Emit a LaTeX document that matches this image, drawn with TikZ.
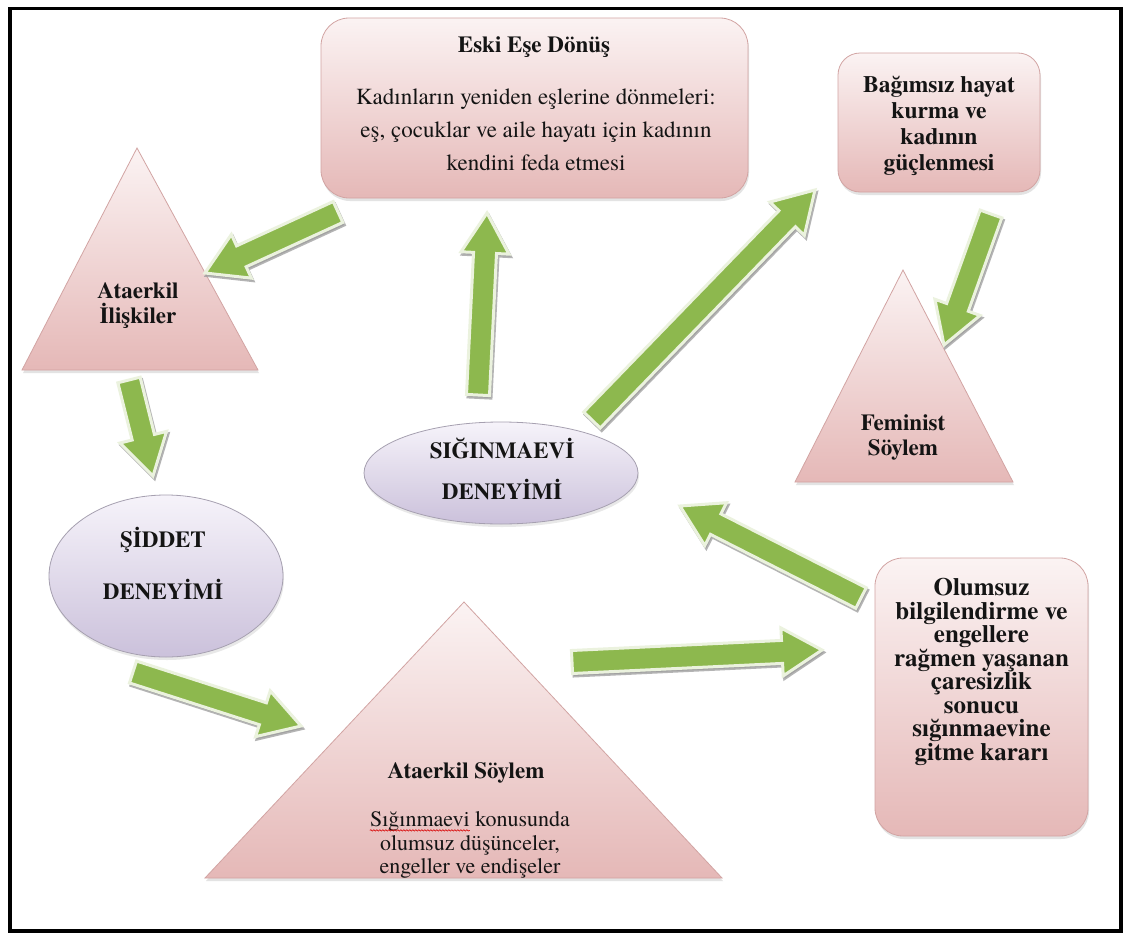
\documentclass[tikz,border=0pt]{standalone}
\usepackage{fontspec}
\setmainfont{texgyretermes}[Extension=.otf, UprightFont=*-regular, BoldFont=*-bold, ItalicFont=*-italic, BoldItalicFont=*-bolditalic]
\usetikzlibrary{calc,shadows,decorations.pathmorphing,shapes.geometric}
\definecolor{pinktop}{HTML}{FBF3F3}
\definecolor{pinkbot}{HTML}{E5B8B7}
\definecolor{pinkline}{HTML}{D2A4A3}
\definecolor{lavtop}{HTML}{F6F3FA}
\definecolor{lavbot}{HTML}{CBC1DB}
\definecolor{lavline}{HTML}{A6A0B0}
\definecolor{agreen}{HTML}{8DB84E}
\definecolor{aedge}{HTML}{EBF2DE}
\definecolor{ashadow}{HTML}{9C9C9C}
\tikzset{
  pinkshape/.style={draw=pinkline, line width=0.8pt, top color=pinktop, bottom color=pinkbot,
    drop shadow={opacity=0.22, shadow xshift=1pt, shadow yshift=-3pt}},
  lavshape/.style={draw=lavline, line width=0.8pt, top color=lavtop, bottom color=lavbot,
    drop shadow={opacity=0.18, shadow xshift=1pt, shadow yshift=-3pt}},
  arrbody/.style={fill=agreen, draw=aedge, line width=3pt, line join=miter},
  arrshadow/.style={fill=ashadow, draw=ashadow, line width=3pt, opacity=0.75},
  txt/.style={align=center, inner sep=0pt, text=black!92},
}
\newcommand\garrow[2]{%
  \begin{scope}[transform canvas={shift={(1.5pt,-2.5pt)}}]
    \filldraw[arrshadow] ($(#1)!11.5pt!90:(#2)$) -- ($(#2)!40pt!(#1)!11.5pt!-90:(#1)$)
      -- ($(#2)!40pt!(#1)!24pt!-90:(#1)$) -- (#2) -- ($(#2)!40pt!(#1)!24pt!90:(#1)$)
      -- ($(#2)!40pt!(#1)!11.5pt!90:(#1)$) -- ($(#1)!11.5pt!-90:(#2)$) -- cycle;
  \end{scope}
  \filldraw[arrbody] ($(#1)!11.5pt!90:(#2)$) -- ($(#2)!40pt!(#1)!11.5pt!-90:(#1)$)
      -- ($(#2)!40pt!(#1)!24pt!-90:(#1)$) -- (#2) -- ($(#2)!40pt!(#1)!24pt!90:(#1)$)
      -- ($(#2)!40pt!(#1)!11.5pt!90:(#1)$) -- ($(#1)!11.5pt!-90:(#2)$) -- cycle;
}
\begin{document}
\begin{tikzpicture}[x=1pt, y=-1pt]
\useasboundingbox (0,0) rectangle (1125,937);
\fill[white] (0,0) rectangle (1125,937);
\draw[line width=3.5pt] (10,8.5) rectangle (1121,931);

% ---- shapes ----
\node[pinkshape, rounded corners=28pt, minimum width=427pt, minimum height=180pt, inner sep=0pt] (eski) at (534.5,108) {};
\node[pinkshape, rounded corners=22pt, minimum width=202pt, minimum height=139pt, inner sep=0pt] (bagim) at (939,122.5) {};
\node[pinkshape, rounded corners=28pt, minimum width=213pt, minimum height=278pt, inner sep=0pt] (olum) at (981.5,697) {};
\path[pinkshape] (137,148) -- (258,370) -- (22,370) -- cycle;
\path[pinkshape] (903,270) -- (1013,482) -- (795,482) -- cycle;
\path[pinkshape] (464,602) -- (722,878) -- (205,878) -- cycle;
\node[lavshape, ellipse, minimum width=274pt, minimum height=102pt, inner sep=0pt] (sig) at (501,473) {};
\node[lavshape, ellipse, minimum width=234pt, minimum height=162pt, inner sep=0pt] (sid) at (166,576) {};

% ---- texts ----
\node[txt, font=\fontsize{23}{30}\selectfont\bfseries] (eskit) at (534,47) {Eski Eşe Dönüş};
\node[txt, font=\fontsize{23}{33}\selectfont] (eskib) at (536,130) {Kadınların yeniden eşlerine dönmeleri:\\eş, çocuklar ve aile hayatı için kadının\\kendini feda etmesi};
\node[txt, font=\fontsize{23.5}{26}\selectfont\bfseries] (bagimt) at (939,126) {Bağımsız hayat\\kurma ve\\kadının\\güçlenmesi};
\node[txt, font=\fontsize{25}{23.5}\selectfont\bfseries] (olumt) at (981.5,672) {Olumsuz\\bilgilendirme ve\\engellere\\rağmen yaşanan\\çaresizlik\\sonucu\\sığınmaevine\\gitme kararı};
\node[txt, font=\fontsize{23}{25}\selectfont\bfseries] (ilis) at (138,305.5) {Ataerkil\\İlişkiler};
\node[txt, font=\fontsize{23}{25}\selectfont\bfseries] (fem) at (903,437.5) {Feminist\\Söylem};
\node[txt, font=\fontsize{23}{25}\selectfont\bfseries] (asoyt) at (466,773) {Ataerkil Söylem};
\node[txt, font=\fontsize{22}{23.5}\selectfont] (asoyb) at (470,845) {Sığınmaevi konusunda\\olumsuz düşünceler,\\engeller ve endişeler};
\draw[red!85!black, line width=0.6pt, decorate, decoration={snake, amplitude=0.7pt, segment length=3pt}]
  ($(asoyb.north west)+(0,19)$) -- ++(100,0);
\node[txt, font=\fontsize{23}{41}\selectfont\bfseries] (sigt) at (502,469) {SIĞINMAEVİ\\DENEYİMİ};
\node[txt, font=\fontsize{23}{52}\selectfont\bfseries] (sidt) at (163,564) {ŞİDDET\\DENEYİMİ};

% ---- arrows ----
\coordinate (a1s) at (338,212); \coordinate (a1e) at (205,273);
\coordinate (a2s) at (129,380); \coordinate (a2e) at (153,476);
\coordinate (a3s) at (133,672); \coordinate (a3e) at (301,726);
\coordinate (a4s) at (572,662); \coordinate (a4e) at (822,650);
\coordinate (a5s) at (861,598); \coordinate (a5e) at (680,506);
\coordinate (a6s) at (478,395); \coordinate (a6e) at (487,213);
\coordinate (a7s) at (592,420); \coordinate (a7e) at (815,190);
\coordinate (a8s) at (991,214); \coordinate (a8e) at (944,345);
\garrow{a1s}{a1e}
\garrow{a2s}{a2e}
\garrow{a3s}{a3e}
\garrow{a4s}{a4e}
\garrow{a5s}{a5e}
\garrow{a6s}{a6e}
\garrow{a7s}{a7e}
\garrow{a8s}{a8e}
\end{tikzpicture}
\end{document}
